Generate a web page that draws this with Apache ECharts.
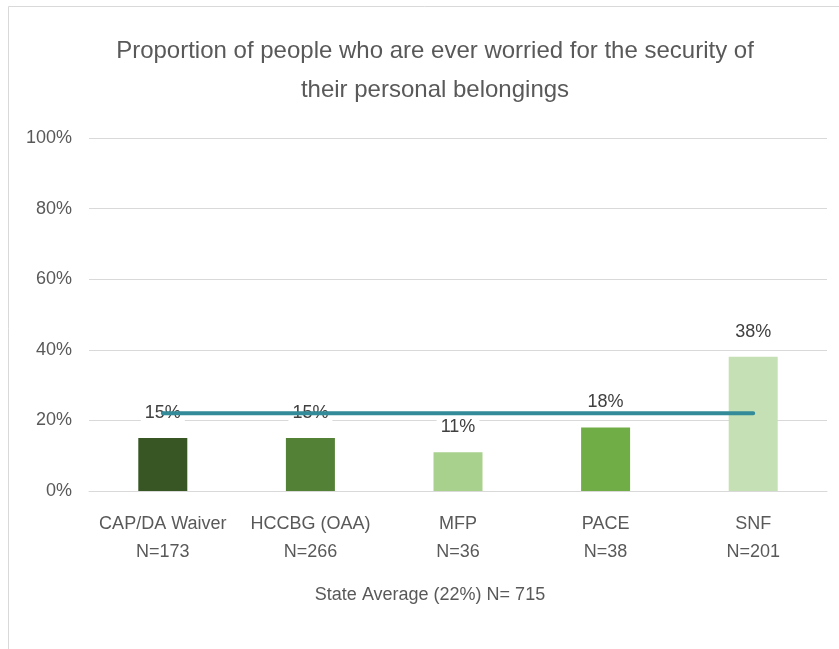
<!DOCTYPE html>
<html><head><meta charset="utf-8">
<script src="https://cdn.jsdelivr.net/npm/echarts@6/dist/echarts.min.js"></script>
<style>html,body{margin:0;padding:0;background:#fff}#c{width:839px;height:649px}</style>
</head><body><div id="c"></div>
<script>
const categories = ['CAP/DA Waiver\nN=173', 'HCCBG (OAA)\nN=266', 'MFP\nN=36', 'PACE\nN=38', 'SNF\nN=201'];
const values = [15, 15, 11, 18, 38];
const barColors = ['#375623', '#538135', '#A9D18E', '#70AD47', '#C5E0B4'];
const stateAverage = [22, 22, 22, 22, 22];
const titleText = 'Proportion of people who are ever worried for the security of\ntheir personal belongings';
const axisNameText = 'State Average (22%) N= 715';

const FONT = '"Liberation Sans", Arial, sans-serif';
const chart = echarts.init(document.getElementById('c'), null, {renderer: 'canvas'});
chart.setOption({
  animation: false,
  backgroundColor: '#fff',
  graphic: [{
    type: 'rect', shape: {x: 8.5, y: 6.5, width: 840, height: 660},
    style: {fill: 'none', stroke: '#D9D9D9', lineWidth: 1}, z: -1
  }],
  title: [{
    text: titleText, left: 430, top: 27, textAlign: 'center',
    textStyle: {fontFamily: FONT, fontSize: 24, fontWeight: 'normal', color: '#595959', lineHeight: 39}
  }, {
    text: axisNameText, left: 425, top: 581, textAlign: 'center',
    textStyle: {fontFamily: FONT, fontSize: 18, fontWeight: 'normal', color: '#595959'}
  }],
  grid: {left: 89, right: 12, top: 138, bottom: 158},
  xAxis: {
    type: 'category', data: categories,
    axisLine: {show: true, lineStyle: {color: '#D9D9D9'}},
    axisTick: {show: false},
    axisLabel: {interval: 0, fontFamily: FONT, fontSize: 18, color: '#595959', lineHeight: 28, margin: 19}
  },
  yAxis: {
    type: 'value', min: 0, max: 100, interval: 20,
    axisLabel: {formatter: '{value}%', fontFamily: FONT, fontSize: 18, color: '#595959', margin: 17},
    splitLine: {lineStyle: {color: '#D9D9D9'}},
    axisLine: {show: false}, axisTick: {show: false}
  },
  series: [{
    type: 'bar', data: values.map((v, i) => ({value: v, itemStyle: {color: barColors[i]}})),
    barWidth: 49, z: 2,
    label: {show: true, position: 'top', formatter: '{c}%', fontFamily: FONT, fontSize: 18, color: '#404040',
      backgroundColor: '#fff', padding: [2, 4, 0, 4], distance: 16}
  }, {
    type: 'line', data: stateAverage, symbol: 'none', z: 10,
    lineStyle: {color: '#338A98', width: 4, cap: 'round'}
  }]
});
</script></body></html>
